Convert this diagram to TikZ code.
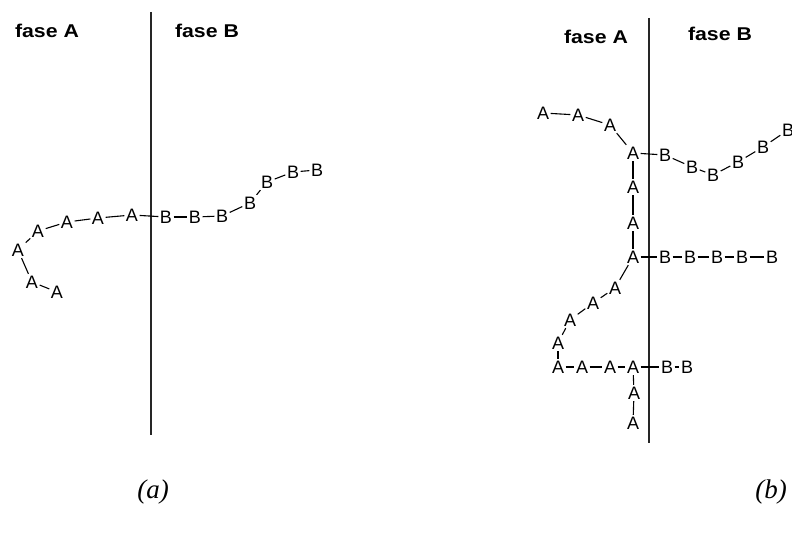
\documentclass[tikz,border=0pt]{standalone}
\usepackage{fontspec}
\setmainfont{Liberation Serif}
\newfontfamily\monofnt{Liberation Sans}
\newfontfamily\boldfnt{Liberation Sans}
\tikzset{
  mono/.style={font=\monofnt\fontsize{18}{18}\selectfont, inner sep=1.5pt, text height=12.9pt, text depth=0pt, minimum width=12pt},
  phase/.style={font=\boldfnt\bfseries\fontsize{18.5}{18.5}\selectfont, inner sep=0pt, xscale=1.15},
  bond/.style={line width=1.1pt},
  divider/.style={line width=1.2pt, black!85},
  capt/.style={font=\itshape\fontsize{27}{27}\selectfont, inner sep=0pt}
}
\begin{document}
\begin{tikzpicture}[x=1pt,y=-1pt]
\useasboundingbox (0,0) rectangle (792,534);
% ---------- (a) ----------
\coordinate (ta) at (151,12);
\coordinate (ba) at (151,435);
\draw[divider] (ta) -- (ba);
\node[phase] (fa1) at (47,31) {fase A};
\node[phase] (fb1) at (207,31) {fase B};
\node[mono] (a1) at (57,292) {A};
\node[mono] (a2) at (32,282) {A};
\node[mono] (a3) at (18,250) {A};
\node[mono] (a4) at (38,231) {A};
\node[mono] (a5) at (67,222) {A};
\node[mono] (a6) at (98,218) {A};
\node[mono] (a7) at (132,215) {A};
\node[mono] (b1) at (166,217) {B};
\node[mono] (b2) at (195,217) {B};
\node[mono] (b3) at (222,216) {B};
\node[mono] (b4) at (250,203) {B};
\node[mono] (b5) at (267,182) {B};
\node[mono] (b6) at (293,172) {B};
\node[mono] (b7) at (317,170) {B};
\foreach \u/\v in {a1/a2,a2/a3,a3/a4,a4/a5,a5/a6,a6/a7,a7/b1,b1/b2,b2/b3,b3/b4,b4/b5,b5/b6,b6/b7}
  \draw[bond] (\u) -- (\v);
\node[capt] (capa) at (153,492) {(a)};
% ---------- (b) ----------
\coordinate (tb) at (649,18);
\coordinate (bb) at (649,443);
\draw[divider] (tb) -- (bb);
\node[phase] (fa2) at (596,37) {fase A};
\node[phase] (fb2) at (720,34) {fase B};
\node[mono] (p1) at (543,113) {A};
\node[mono] (p2) at (578,115) {A};
\node[mono] (p3) at (610,125) {A};
\node[mono] (p4) at (633,153) {A};
\node[mono] (p5) at (633,187) {A};
\node[mono] (p6) at (633,223) {A};
\node[mono] (p7) at (633,257) {A};
\node[mono] (p8) at (615,288) {A};
\node[mono] (p9) at (593,303) {A};
\node[mono] (p10) at (570,320) {A};
\node[mono] (p11) at (558,343) {A};
\node[mono] (p12) at (558,367) {A};
\node[mono] (p13) at (582,367) {A};
\node[mono] (p14) at (610,367) {A};
\node[mono] (p15) at (633,367) {A};
\node[mono] (p16) at (634,393) {A};
\node[mono] (p17) at (633,423) {A};
\node[mono] (q1) at (665,155) {B};
\node[mono] (q2) at (692,167) {B};
\node[mono] (q3) at (713,175) {B};
\node[mono] (q4) at (738,162) {B};
\node[mono] (q5) at (763,147) {B};
\node[mono] (q6) at (788,130) {B};
\node[mono] (r1) at (665,257) {B};
\node[mono] (r2) at (690,257) {B};
\node[mono] (r3) at (717,257) {B};
\node[mono] (r4) at (742,257) {B};
\node[mono] (r5) at (772,257) {B};
\node[mono] (s1) at (667,367) {B};
\node[mono] (s2) at (687,367) {B};
\foreach \u/\v in {p1/p2,p2/p3,p3/p4,p4/p5,p5/p6,p6/p7,p7/p8,p8/p9,p9/p10,p10/p11,p11/p12,p12/p13,p13/p14,p14/p15,p15/p16,p16/p17,
  p4/q1,q1/q2,q2/q3,q3/q4,q4/q5,q5/q6,p7/r1,r1/r2,r2/r3,r3/r4,r4/r5,p15/s1,s1/s2}
  \draw[bond] (\u) -- (\v);
\node[capt] (capb) at (771,492) {(b)};
\end{tikzpicture}
\end{document}
